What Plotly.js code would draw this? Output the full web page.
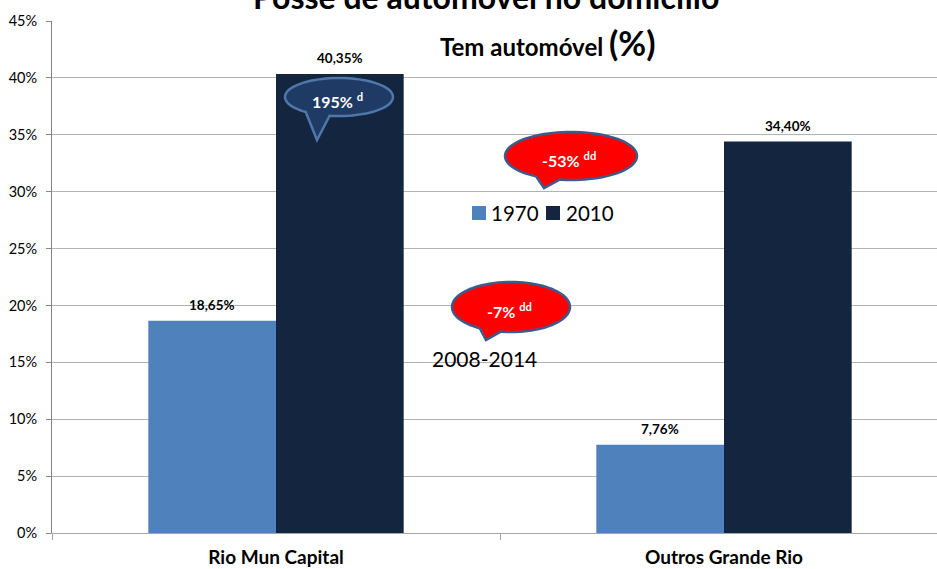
<!DOCTYPE html>
<html><head><meta charset="utf-8">
<script src="https://cdn.plot.ly/plotly-3.0.1.min.js"></script>
<style>html,body{margin:0;padding:0;overflow:hidden;background:#fff}#c{width:960px;height:569px}</style>
</head><body><div id="c"></div>
<script>
const categories = ['Rio Mun Capital', 'Outros Grande Rio'];
const series1970 = [18.65, 7.76];
const series2010 = [40.35, 34.40];
const seriesNames = ['1970', '2010'];
const seriesColors = ['#4f81bd', '#13253f'];
const titleMain = 'Posse de automóvel no domicílio';
const titleSub = 'Tem automóvel <span style="font-size:34px">(%)</span>';
const bubbles = [
  {text: '195% <sup>d</sup>', fill: '#1f3a64', line: '#4f77aa', cx: 339, cy: 97, rx: 54, ry: 19, tx: 317, ty: 140, a1: 100, a2: 128},
  {text: '-53% <sup>dd</sup>', fill: '#ff0000', line: '#3c5b8c', cx: 571, cy: 156, rx: 66, ry: 24, tx: 544, ty: 188, a1: 100, a2: 122},
  {text: '-7% <sup>dd</sup>', fill: '#ff0000', line: '#3c5b8c', cx: 511, cy: 307, rx: 59, ry: 25, tx: 486, ty: 340, a1: 100, a2: 122}
];
const periodLabel = '2008-2014';

const L = 52, R = 948, T = 21, B = 533;
const px = x => (x - L) / (R - L);
const py = y => (B - y) / (B - T);

function bubblePath(b) {
  const pts = [];
  const rad = a => a * Math.PI / 180;
  for (let a = b.a2; a <= b.a1 + 360; a += 4) {
    pts.push([b.cx + b.rx * Math.cos(rad(a)), b.cy + b.ry * Math.sin(rad(a))]);
  }
  pts.push([b.cx + b.rx * Math.cos(rad(b.a1)), b.cy + b.ry * Math.sin(rad(b.a1))]);
  pts.push([b.tx, b.ty]);
  return 'M' + pts.map(p => px(p[0]).toFixed(5) + ',' + py(p[1]).toFixed(5)).join(' L') + ' Z';
}

const font = 'Lato, "Open Sans", sans-serif';
const traces = [
  {type: 'bar', name: seriesNames[0], x: categories, y: series1970, marker: {color: seriesColors[0]}, hoverinfo: 'skip'},
  {type: 'bar', name: seriesNames[1], x: categories, y: series2010, marker: {color: seriesColors[1]}, hoverinfo: 'skip'}
];

const annotations = [];
[series1970, series2010].forEach((s, si) => {
  s.forEach((v, i) => {
    annotations.push({x: categories[i], y: v, xref: 'x', yref: 'y', xanchor: 'center', yanchor: 'middle', xshift: si === 0 ? -64 : 64, yshift: 16,
      text: '<b>' + v.toFixed(2).replace('.', ',') + '%</b>', showarrow: false, font: {family: font, size: 13.5, color: '#000'}});
  });
});
annotations.push({xref: 'paper', yref: 'paper', x: px(486), y: py(-4), xanchor: 'center', yanchor: 'middle', text: '<b>' + titleMain + '</b>', showarrow: false, font: {family: font, size: 32, color: '#000'}});
annotations.push({xref: 'paper', yref: 'paper', x: px(548), y: py(42), xanchor: 'center', yanchor: 'middle', text: '<b>' + titleSub + '</b>', showarrow: false, font: {family: font, size: 24, color: '#000'}});
annotations.push({xref: 'paper', yref: 'paper', x: px(484), y: py(358), xanchor: 'center', yanchor: 'middle', text: periodLabel, showarrow: false, font: {family: font, size: 21, color: '#000'}});
bubbles.forEach(b => {
  annotations.push({xref: 'paper', yref: 'paper', x: px(b.cx - 2), y: py(b.cy + 3), xanchor: 'center', yanchor: 'middle', text: '<b>' + b.text + '</b>', showarrow: false, font: {family: font, size: 16, color: '#fff'}});
});

const shapes = bubbles.map(b => ({type: 'path', xref: 'paper', yref: 'paper', path: bubblePath(b), fillcolor: b.fill, line: {color: b.line, width: 2.5}, layer: 'above'}));

// custom legend (square + label) placed like the reference
const legendItems = [{sx: 472, tx: 489}, {sx: 546, tx: 564}];
legendItems.forEach((it, i) => {
  shapes.push({type: 'rect', xref: 'paper', yref: 'paper', x0: px(it.sx), x1: px(it.sx + 14), y0: py(220), y1: py(206), fillcolor: seriesColors[i], line: {width: 0}, layer: 'above'});
  annotations.push({xref: 'paper', yref: 'paper', x: px(it.tx), y: py(213), xanchor: 'left', yanchor: 'middle', text: seriesNames[i], showarrow: false, font: {family: font, size: 20.5, color: '#000'}});
});

const layout = {
  width: 960, height: 569,
  margin: {l: L, r: 960 - R, t: T, b: 569 - B},
  paper_bgcolor: '#fff', plot_bgcolor: '#fff',
  barmode: 'group', bargap: 0.43, bargroupgap: 0,
  showlegend: false,
  xaxis: {type: 'category', range: [-0.5, 1.5], showline: true, linecolor: '#a6a6a6', linewidth: 1, ticks: 'outside', tickson: 'boundaries', ticklen: 6, tickcolor: '#a6a6a6', showgrid: false,
    tickfont: {family: font, size: 19, color: '#000', weight: 'bold'}, ticklabelstandoff: 7, fixedrange: true},
  yaxis: {range: [0, 45], dtick: 5, ticksuffix: '%', showline: true, linecolor: '#868686', ticks: 'outside', ticklen: 5, tickcolor: '#868686',
    showgrid: true, gridcolor: '#b3b3b3', zeroline: false, tickfont: {family: font, size: 14.5, color: '#000'}, ticklabelstandoff: 6, fixedrange: true},
  annotations: annotations,
  shapes: shapes
};
Plotly.newPlot('c', traces, layout, {displayModeBar: false, staticPlot: true});
</script></body></html>
